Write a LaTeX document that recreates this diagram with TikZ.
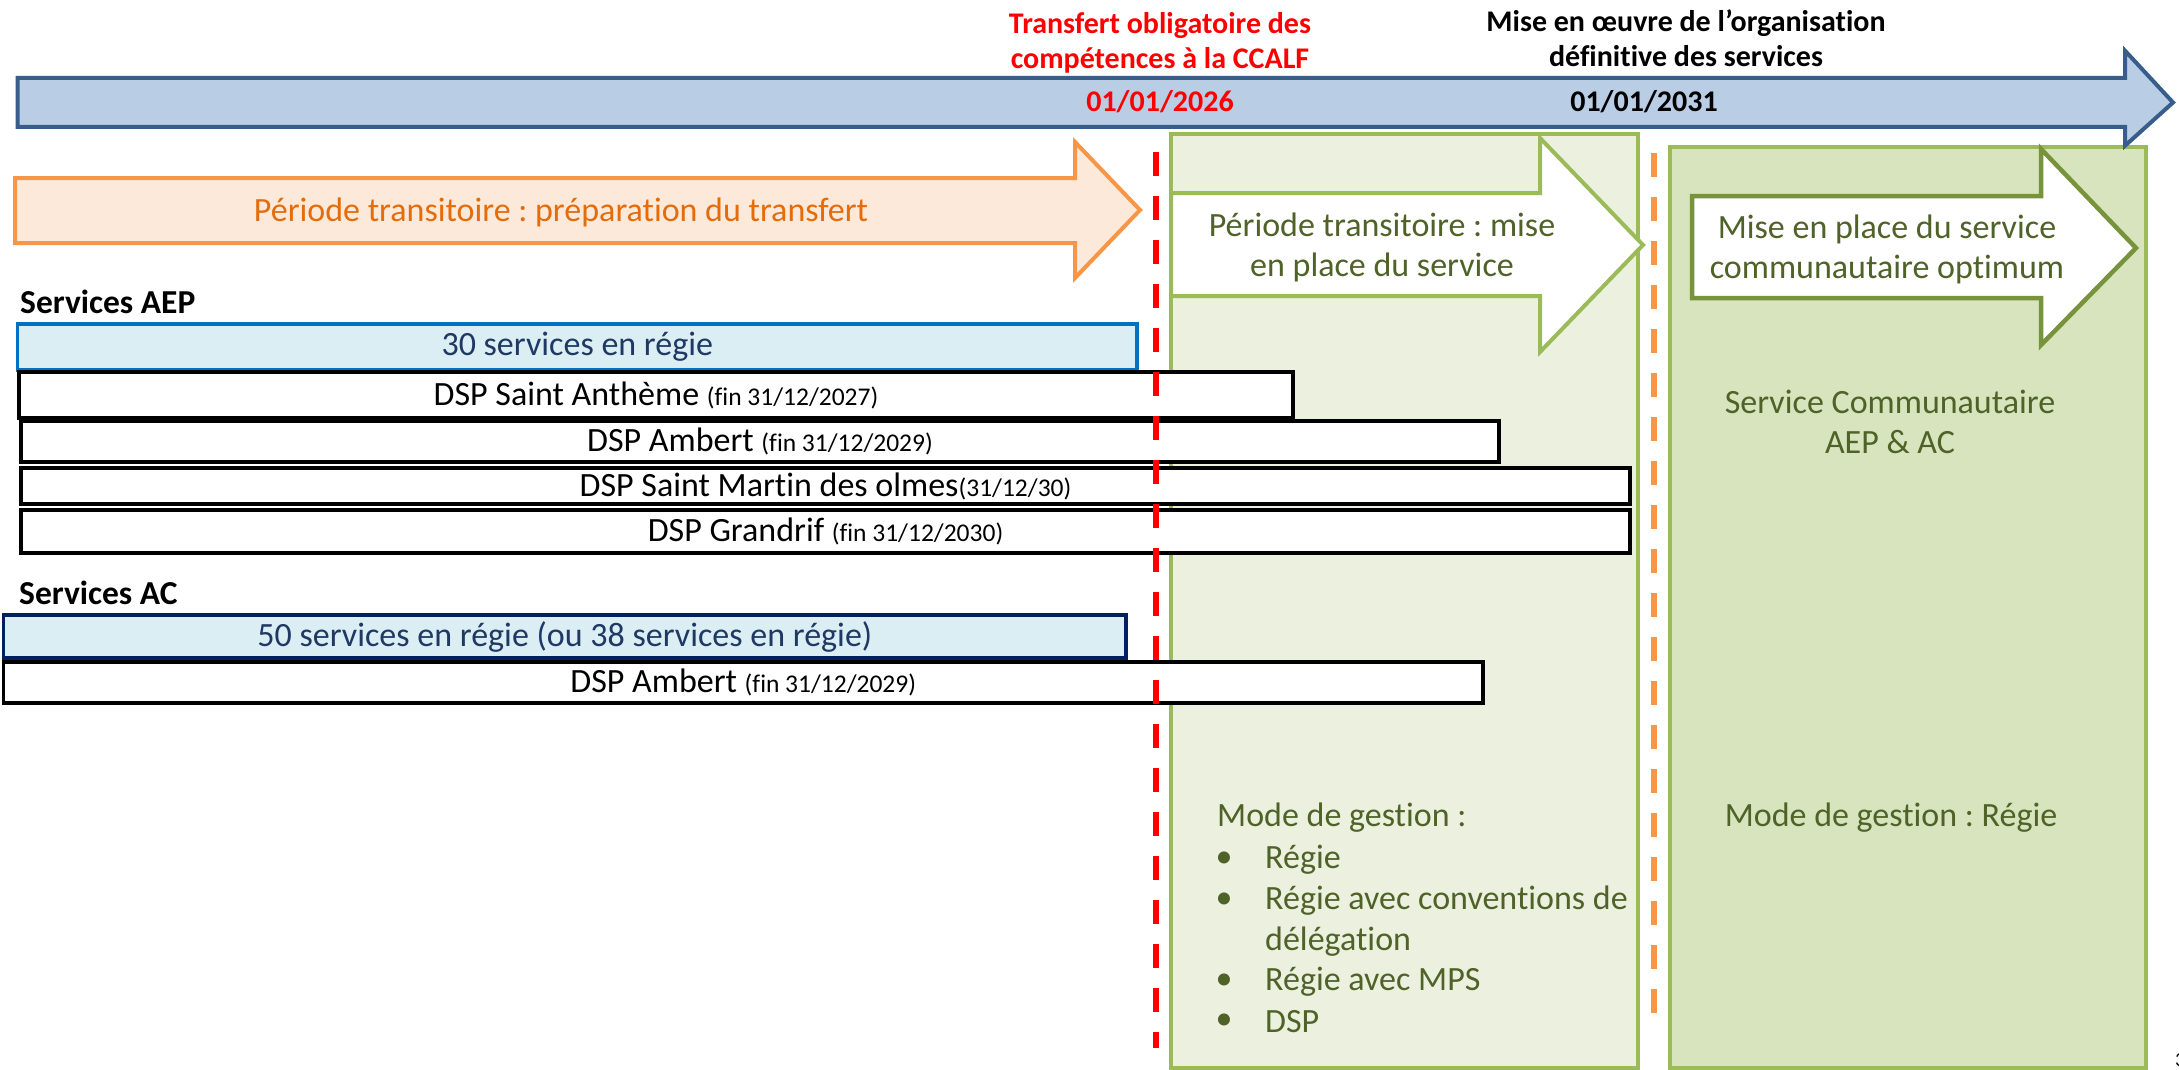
\documentclass[tikz,border=0pt]{standalone}
\usepackage{fontspec}
\setmainfont{Carlito}[Ligatures=NoCommon]
\frenchspacing
\definecolor{blueFill}{HTML}{B9CDE5}
\definecolor{blueLine}{HTML}{385D8A}
\definecolor{orFill}{HTML}{FDE9D9}
\definecolor{orLine}{HTML}{F79646}
\definecolor{orText}{HTML}{E46C0A}
\definecolor{gFillA}{HTML}{EBF1DE}
\definecolor{gFillB}{HTML}{D7E4BD}
\definecolor{gLine}{HTML}{9BBB59}
\definecolor{gLineDark}{HTML}{77933C}
\definecolor{gText}{HTML}{4F6228}
\definecolor{lbFill}{HTML}{DAEEF3}
\definecolor{lbLine}{HTML}{0070C0}
\definecolor{navyLine}{HTML}{002060}
\definecolor{navyText}{HTML}{1F3864}
\newcommand{\smallfin}{\fontsize{25.5}{30}\selectfont}
\begin{document}
\begin{tikzpicture}[x=1pt,y=-1pt,
  txt/.style={inner sep=0pt,font=\fontsize{34}{40}\selectfont},
  hdr/.style={inner sep=0pt,font=\fontsize{30}{35}\selectfont\bfseries,align=center},
  sec/.style={inner sep=0pt,font=\fontsize{33.5}{38}\selectfont\bfseries,anchor=west},
  bluebar/.style={draw=lbLine,fill=lbFill,line width=3.5pt,inner sep=0pt,text=navyText,font=\fontsize{34}{40}\selectfont},
  navybar/.style={draw=navyLine,fill=lbFill,line width=3.5pt,inner sep=0pt,text=navyText,font=\fontsize{34}{40}\selectfont},
  dspbar/.style={draw=black,fill=white,line width=3.4pt,inner sep=0pt,font=\fontsize{34}{40}\selectfont},
  greentxt/.style={txt,text=gText,align=center},
  bulletline/.style={txt,text=gText,anchor=west}
]
\useasboundingbox (0,0) rectangle (2179,1070);
\fill[white] (0,0) rectangle (2179,1070);

% green background boxes
\draw[fill=gFillA,draw=gLine,line width=3.5pt] (1171,134) rectangle (1638,1068);
\draw[fill=gFillB,draw=gLine,line width=3.5pt] (1670,147) rectangle (2146,1068);

% main timeline arrow
\draw[fill=blueFill,draw=blueLine,line width=4pt,line join=miter]
  (17.5,78) -- (2125,78) -- (2125,50.7) -- (2173,102.5) -- (2125,145.7) -- (2125,127) -- (17.5,127) -- cycle;

% orange arrow
\draw[fill=orFill,draw=orLine,line width=4pt,line join=miter]
  (15,178) -- (1075,178) -- (1075,142) -- (1140,210) -- (1075,278) -- (1075,243) -- (15,243) -- cycle;

% white arrows
\draw[fill=white,draw=gLine,line width=4pt,line join=miter]
  (1171,193) -- (1540,193) -- (1540,138) -- (1643,245) -- (1540,352) -- (1540,296) -- (1171,296) -- cycle;
\draw[fill=white,draw=gLineDark,line width=4.5pt,line join=miter]
  (1692,196) -- (2041,196) -- (2041,149) -- (2136,248) -- (2041,345) -- (2041,298) -- (1692,298) -- cycle;

% header texts
\node[hdr,text=red] (transfert) at (1160,43) {Transfert obligatoire des\\compétences à la CCALF};
\node[hdr,text=black] (miseoeuvre) at (1686,38) {Mise en œuvre de l’organisation\\définitive des services};
\node[hdr,text=red] (d2026) at (1160,102) {01/01/2026};
\node[hdr,text=black] (d2031) at (1644,102) {01/01/2031};

% arrow texts
\node[txt,text=orText] (prep) at (561,212) {Période transitoire : préparation du transfert};
\node[greentxt] (transit) at (1382,247) {Période transitoire : mise\\en place du service};
\node[greentxt] (optimum) at (1887,249) {Mise en place du service\\communautaire optimum};

% section labels
\node[sec] (aep) at (20,302) {Services AEP};
\node[sec] (ac) at (19,593) {Services AC};

% bars
\node[bluebar,minimum width=1119.5pt,minimum height=46pt] (b1) at (577.25,347) {30 services en régie};
\node[dspbar,minimum width=1274pt,minimum height=46pt] (b2) at (656,395) {DSP Saint Anthème {\smallfin(fin 31/12/2027)}};
\node[dspbar,minimum width=1478pt,minimum height=41pt] (b3) at (760,441.5) {DSP Ambert {\smallfin(fin 31/12/2029)}};
\node[dspbar,minimum width=1609pt,minimum height=36pt] (b4) at (825.5,486) {DSP Saint Martin des olmes{\smallfin(31/12/30)}};
\node[dspbar,minimum width=1609pt,minimum height=43pt] (b5) at (825.5,531.5) {DSP Grandrif {\smallfin(fin 31/12/2030)}};
\node[navybar,minimum width=1122.5pt,minimum height=43pt] (b6) at (564.75,636.5) {50 services en régie (ou 38 services en régie)};
\node[dspbar,minimum width=1479.5pt,minimum height=41pt] (b7) at (743.25,682.5) {DSP Ambert {\smallfin(fin 31/12/2029)}};

% dashed milestones
\coordinate (rtop) at (1156,152);
\coordinate (rbot) at (1156,1048);
\draw[red,line width=6pt,dash pattern=on 24pt off 20pt] (rtop) -- (rbot);
\coordinate (otop) at (1654,153);
\coordinate (obot) at (1654,1028);
\draw[orLine,line width=6pt,dash pattern=on 24pt off 20pt] (otop) -- (obot);

% right column texts
\node[greentxt] (servcom) at (1890,422) {Service Communautaire\\AEP \& AC};
\node[txt,text=gText] (moderegie) at (1891,818) {Mode de gestion : Régie};

% management list
\node[bulletline] (mode) at (1217,818) {Mode de gestion :};
\node[bulletline] (l1) at (1265,860) {Régie};
\node[bulletline] (l2) at (1265,901) {Régie avec conventions de};
\node[bulletline] (l3) at (1265,942) {délégation};
\node[bulletline] (l4) at (1265,982) {Régie avec MPS};
\node[bulletline] (l5) at (1265,1022) {DSP};
\node[txt,text=gText] (p1) at (1224,860) {•};
\node[txt,text=gText] (p2) at (1224,901) {•};
\node[txt,text=gText] (p4) at (1224,982) {•};
\node[txt,text=gText] (p5) at (1224,1022) {•};

% page number fragment
\node[inner sep=0pt,anchor=west,font=\fontsize{20}{24}\selectfont] (pnum) at (2175,1060) {3};
\end{tikzpicture}
\end{document}
